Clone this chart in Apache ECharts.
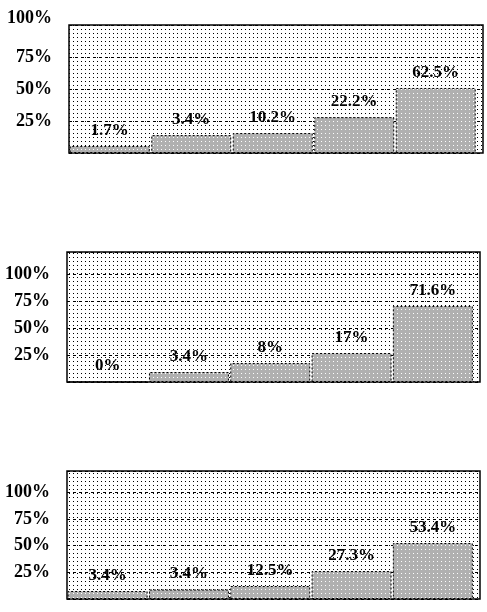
<!DOCTYPE html>
<html>
<head>
<meta charset="utf-8">
<script src="https://cdn.jsdelivr.net/npm/echarts@6/dist/echarts.min.js"></script>
<style>
html,body{margin:0;padding:0;background:#fff;}
#chart{width:487px;height:612px;}
</style>
</head>
<body>
<div id="chart"></div>
<script>
// ---- data ----
const categories = ['1', '2', '3', '4', '5'];
const tickLabels = [25, 50, 75, 100];
// printed percentages
const labels1 = [1.7, 3.4, 10.2, 22.2, 62.5];
const labels2 = [0, 3.4, 8, 17, 71.6];
const labels3 = [3.4, 3.4, 12.5, 27.3, 53.4];
// drawn bar heights (axis %)
const bars1 = [5.5, 14, 15.6, 28, 50.8];
const bars2 = [0, 9.3, 17.7, 27, 70.8];
const bars3 = [7.5, 8.9, 12.2, 26.2, 52.5];

function makePattern(w, h, bg, dot, positions) {
  const c = document.createElement('canvas');
  c.width = w; c.height = h;
  const ctx = c.getContext('2d');
  ctx.fillStyle = bg; ctx.fillRect(0, 0, w, h);
  ctx.fillStyle = dot;
  positions.forEach(p => ctx.fillRect(p[0], p[1], 1, 1));
  return { image: c, repeat: 'repeat' };
}
const bgPattern = makePattern(4, 4, '#ffffff', '#000000', [[1, 1]]);
const barPattern = makePattern(4, 4, '#b0b0b0', '#ffffff', [[1, 1]]);

const FONT = '"Liberation Serif", "Times New Roman", serif';

const panels = [
  { grid: { left: 69, top: 25, width: 414, height: 128 }, max: 100, bars: bars1, labels: labels1 },
  { grid: { left: 67, top: 252, width: 413, height: 130 }, max: 121, bars: bars2, labels: labels2 },
  { grid: { left: 67, top: 471, width: 413, height: 128 }, max: 120, bars: bars3, labels: labels3 }
];

const option = {
  animation: false,
  backgroundColor: '#ffffff',
  grid: panels.map(p => Object.assign({
    show: true,
    backgroundColor: bgPattern,
    borderColor: '#000',
    borderWidth: 1.5
  }, p.grid)),
  xAxis: panels.map((p, i) => ({
    type: 'value',
    gridIndex: i,
    min: 0,
    max: 5.08,
    axisLine: { show: false },
    axisTick: { show: false },
    axisLabel: { show: false },
    splitLine: { show: false }
  })),
  yAxis: panels.map((p, i) => ({
    type: 'value',
    gridIndex: i,
    min: 0,
    max: p.max,
    interval: 25,
    axisLine: { show: false },
    axisTick: { show: false },
    axisLabel: {
      margin: 17,
      fontFamily: FONT,
      fontWeight: 'bold',
      fontSize: 18,
      color: '#000',
      formatter: v => {
        if (!tickLabels.includes(v)) return '';
        if (i === 0 && v === 100) return '{hi|' + v + '%}';
        return v + '%';
      },
      rich: {
        hi: { fontFamily: FONT, fontWeight: 'bold', fontSize: 18, color: '#000', padding: [0, 0, 14, 0] }
      }
    },
    splitLine: {
      show: true,
      lineStyle: { color: '#000', width: 1, type: [3, 3] }
    }
  })),
  series: panels.map((p, i) => ({
    type: 'bar',
    xAxisIndex: i,
    yAxisIndex: i,
    data: p.bars.map((v, k) => [k + 0.5, v]),
    barWidth: 80,
    itemStyle: {
      color: barPattern,
      borderColor: '#000',
      borderWidth: 1,
      borderType: [2, 2]
    },
    label: {
      show: true,
      position: 'top',
      distance: 7,
      fontFamily: FONT,
      fontWeight: 'bold',
      fontSize: 17,
      color: '#000',
      formatter: d => p.labels[d.dataIndex] + '%'
    }
  }))
};

const chart = echarts.init(document.getElementById('chart'), null, { renderer: 'canvas' });
chart.setOption(option);
</script>
</body>
</html>
